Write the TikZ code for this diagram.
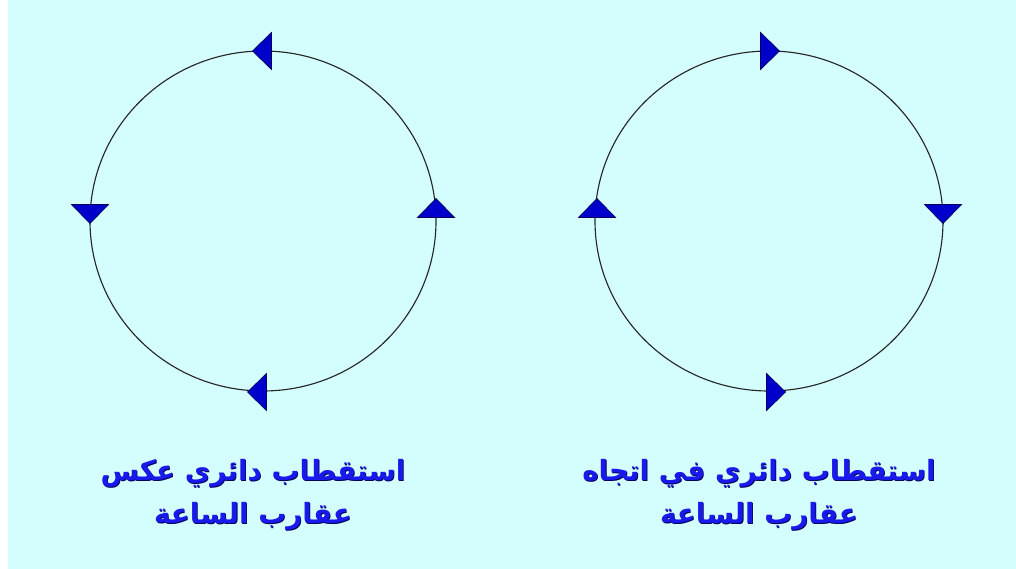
\documentclass[tikz,border=0pt]{standalone}
\usepackage{fontspec}
\newfontfamily\arabicfont[Script=Arabic]{DejaVu Sans}
\TeXXeTstate=1
\definecolor{bgcyan}{RGB}{212,253,253}
\definecolor{arrowblue}{RGB}{0,0,205}
\definecolor{textblue}{RGB}{25,25,235}
\definecolor{shadowblue}{RGB}{0,0,90}
\tikzset{
  ring/.style={draw=black!85, line width=0.8pt},
  tip/.style={fill=arrowblue, draw=shadowblue, line width=0.5pt, line join=miter},
  caption/.style={font=\arabicfont\bfseries\fontsize{19.8}{31}\selectfont, align=center, text=textblue},
  captionshadow/.style={caption, text=shadowblue}
}
\begin{document}
\begin{tikzpicture}[x=0.025cm, y=-0.025cm]
    % Page: white strip at the left, cyan background
    \useasboundingbox (0,0) rectangle (1016,569);
    \fill[white] (0,0) rectangle (8,569);
    \fill[bgcyan] (8,0) rectangle (1016,569);

    % The two circles
    \draw[ring] (263,221) ellipse (173 and 170);
    \draw[ring] (769,221) ellipse (174 and 170);

    % Arrowheads: centre x / centre y / rotation (0 = pointing right)
    \foreach \cx/\cy/\rot in {262/51/180, 90/214/-90, 436/208/90, 257/392/180,
                              770/51/0, 597/208/90, 943/214/-90, 776/392/0} {
        \begin{scope}[shift={(\cx,\cy)}, rotate=\rot]
            \draw[tip] (9.5,0) -- (-9.5,-18.5) -- (-9.5,18.5) -- cycle;
        \end{scope}
    }

    % Captions under the circles (shadow first, then the text)
    \node[captionshadow] (lshadow) at (253.8,495.8) {\beginR استقطاب دائري عكس\endR\\\beginR عقارب الساعة\endR};
    \node[caption] (lcaption) at (253,495) {\beginR استقطاب دائري عكس\endR\\\beginR عقارب الساعة\endR};

    \node[captionshadow] (rshadow) at (759.8,495.8) {\beginR استقطاب دائري في اتجاه\endR\\\beginR عقارب الساعة\endR};
    \node[caption] (rcaption) at (759,495) {\beginR استقطاب دائري في اتجاه\endR\\\beginR عقارب الساعة\endR};
\end{tikzpicture}
\end{document}
